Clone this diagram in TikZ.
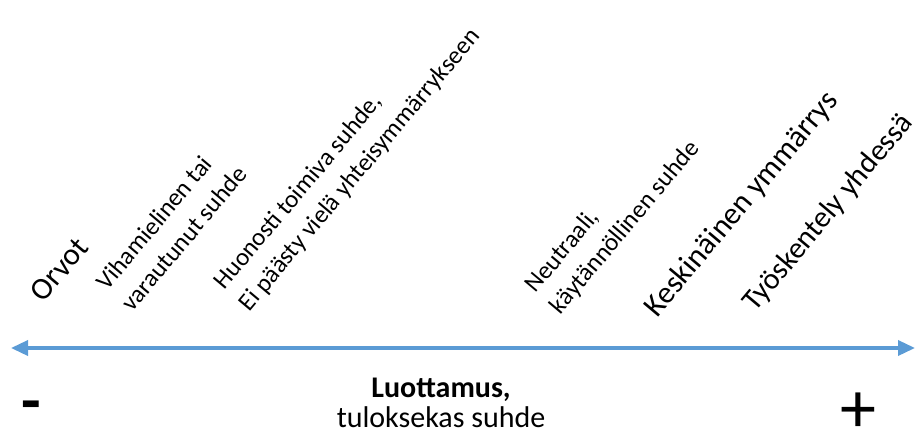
\documentclass[tikz,border=0pt]{standalone}
\usepackage{fontspec}
\setmainfont{Carlito}
\usepackage{xcolor}
\definecolor{axisblue}{HTML}{5B9BD5}
\usepackage{tikz}
\usetikzlibrary{arrows.meta}

\begin{document}
\begin{tikzpicture}[
    x=1pt, y=-1pt,
    lbl/.style={
      rotate=50, anchor=south west, inner sep=0pt,
      align=left, font=\fontsize{25}{33}\selectfont
    },
    biglbl/.style={lbl, font=\fontsize{31}{37}\selectfont},
    sign/.style={inner sep=0pt, text=black, anchor=base},
    axisline/.style={draw=axisblue, line width=3.5pt},
    >={Triangle[length=17pt,width=15pt]}
  ]
    \useasboundingbox (0,0) rectangle (917,437);

    % the scale
    \coordinate (low)  at (11,348);
    \coordinate (high) at (915,348);
    \draw[axisline, <->] (low) -- (high);

    % stages of the relation
    \node[biglbl] (orvot) at (44,304)  {Orvot};
    \node[lbl]    (viha)  at (133,313) {Vihamielinen tai\\varautunut suhde};
    \node[lbl]    (huono) at (253,315) {Huonosti toimiva suhde,\\Ei päästy vielä yhteisymmärrykseen};
    \node[lbl]    (neutr) at (564,318) {Neutraali,\\käytännöllinen suhde};
    \node[biglbl] (keski) at (661,322) {Keskinäinen ymmärrys};
    \node[biglbl, font=\fontsize{30}{36}\selectfont] (tyo) at (759,316) {Työskentely yhdessä};

    % ends and caption
    \node[sign, font=\fontsize{64}{68}\selectfont\bfseries] (minus) at (31,422) {-};
    \node[sign, font=\fontsize{72}{76}\selectfont] (plus) at (858,432) {+};
    \node[anchor=base, inner sep=0pt, font=\fontsize{30}{36}\selectfont\bfseries] (trust) at (441,397) {Luottamus,};
    \node[anchor=base, inner sep=0pt, font=\fontsize{30}{36}\selectfont] (result) at (441,427) {tuloksekas suhde};
\end{tikzpicture}
\end{document}
